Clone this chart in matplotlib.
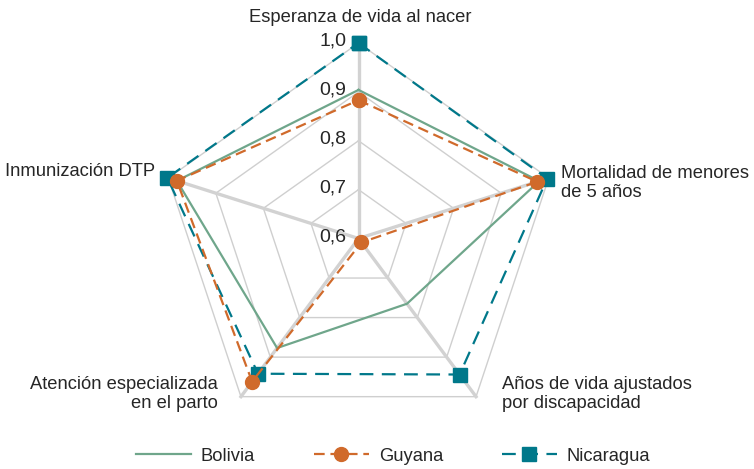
import numpy as np
import matplotlib
matplotlib.use("Agg")
import matplotlib.pyplot as plt
from matplotlib import font_manager
from matplotlib.transforms import offset_copy

names = {f.name for f in font_manager.fontManager.ttflist}
fam = [f for f in ["Liberation Sans", "DejaVu Sans"] if f in names]
plt.rcParams["font.family"] = fam

categories = ["Esperanza de vida al nacer", "Mortalidad de menores\nde 5 años",
              "Años de vida ajustados\npor discapacidad", "Atención especializada\nen el parto",
              "Inmunización DTP"]
series_names = ["Bolivia", "Guyana", "Nicaragua"]
bolivia = [0.904, 0.98, 0.765, 0.877, 0.982]
guyana = [0.883, 0.976, 0.61, 0.962, 0.982]
nicaragua = [1.0, 0.997, 0.944, 0.942, 1.002]
rticks = [0.6, 0.7, 0.8, 0.9, 1.0]
rtick_labels = ["0,6", "0,7", "0,8", "0,9", "1,0"]

FS = 13.2
TXT = "#262626"
W, H = 754, 469
fig = plt.figure(figsize=(W / 100, H / 100), dpi=100)
cx, cy, Rx, Ry = 358.5, 238.5, 200, 195.5
ax = fig.add_axes([(cx - Rx) / W, (H - cy - Ry) / H, 2 * Rx / W, 2 * Ry / H], projection="polar")
ax.set_aspect("auto")
ax.set_theta_offset(np.pi / 2)
ax.set_theta_direction(-1)
ax.set_ylim(0.6, 1.0)
ax.axis("off")

n = len(categories)
theta = np.arange(n) * 2 * np.pi / n
tc = np.append(theta, theta[0])

# grid rings
for r in rticks[1:]:
    ax.plot(tc, [r] * (n + 1), color="#cfcfcf", lw=1.0, zorder=1, clip_on=False)
# spokes
for t in theta:
    ax.plot([t, t], [rticks[0], rticks[-1]], color="#d2d2d2", lw=2.4, zorder=1.5, clip_on=False)

# tick labels
tr = offset_copy(ax.transData, fig=fig, x=-12, y=2, units="dots")
for r, lab in zip(rticks, rtick_labels):
    ax.text(0, r, lab, transform=tr, ha="right", va="center", fontsize=FS + 0.8, color=TXT)

def close(v):
    return list(v) + [v[0]]

ax.plot(tc, close(bolivia), color="#6fa68b", lw=1.6, zorder=3, clip_on=False, label=series_names[0])
ax.plot(tc, close(guyana), color="#d06a2b", lw=1.6, dashes=(4.8, 2.6), marker="o", ms=10,
        zorder=4, clip_on=False, label=series_names[1])
ax.plot(tc, close(nicaragua), color="#00788a", lw=1.6, dashes=(6.2, 3.8), marker="s", ms=10,
        zorder=2.5, clip_on=False, label=series_names[2])

# category labels
fig.text(360 / W, 1 - 17 / H, categories[0], ha="center", va="center", fontsize=FS, color=TXT)
fig.text(561 / W, 1 - 183 / H, categories[1], ha="left", va="center", fontsize=FS, color=TXT,
         linespacing=1.15)
fig.text(502 / W, 1 - 394 / H, categories[2], ha="left", va="center", fontsize=FS, color=TXT,
         linespacing=1.15)
fig.text(218 / W, 1 - 394 / H, categories[3], ha="right", va="center", fontsize=FS, color=TXT,
         linespacing=1.15, multialignment="right")
fig.text(155 / W, 1 - 171 / H, categories[4], ha="right", va="center", fontsize=FS, color=TXT)

handles, labels = ax.get_legend_handles_labels()
leg = fig.legend(handles, labels, loc="center", bbox_to_anchor=(393 / W, 1 - 456 / H), ncol=3,
                 frameon=False, fontsize=FS, handlelength=3.0, columnspacing=3.2,
                 handletextpad=0.55, labelcolor=TXT)

fig.savefig("out.png", dpi=100)
